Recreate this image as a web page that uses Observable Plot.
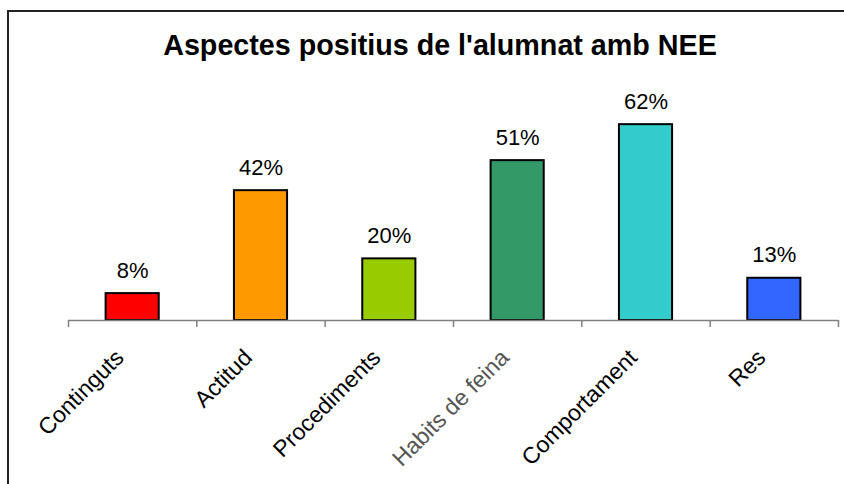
<!DOCTYPE html>
<html>
<head>
<meta charset="utf-8">
<script src="https://cdn.jsdelivr.net/npm/d3@7"></script>
<script src="https://cdn.jsdelivr.net/npm/@observablehq/plot@0.6"></script>
<style>
  html, body { margin: 0; padding: 0; background: #fff; }
  #wrap { position: relative; width: 844px; height: 484px; overflow: hidden; font-family: "Liberation Sans", Arial, sans-serif; }
  #frame { position: absolute; left: 7px; top: 10px; width: 900px; height: 600px; border-top: 2px solid #222; border-left: 2px solid #222; box-sizing: border-box; }
  #title { position: absolute; left: 0; width: 880px; top: 29px; text-align: center; font-weight: bold; font-size: 28.7px; color: #000; line-height: 32px; }
  #chart { position: absolute; left: 0; top: 0; }
</style>
</head>
<body>
<div id="wrap">
  <div id="frame"></div>
  <div id="chart"></div>
  <div id="title">Aspectes positius de l'alumnat amb NEE</div>
</div>
<script>
const categories = ["Continguts", "Actitud", "Procediments", "Habits de feina", "Comportament", "Res"];
const values = [8.6, 41.5, 19.7, 51.1, 62.6, 13.5];
const valueLabels = ["8%", "42%", "20%", "51%", "62%", "13%"];
const colors = ["#FF0000", "#FF9900", "#99CC00", "#339966", "#33CCCC", "#3366FF"];
const labelColors = ["#000", "#000", "#000", "#555", "#000", "#000"];

const data = categories.map((c, i) => ({
  cat: c, idx: i, value: values[i], label: valueLabels[i], color: colors[i], labelColor: labelColors[i]
}));
const edges = d3.range(categories.length + 1);

const chart = Plot.plot({
  width: 844,
  height: 484,
  marginLeft: 68,
  marginRight: 6,
  marginTop: 101,
  marginBottom: 164,
  x: { type: "linear", domain: [0, categories.length] },
  y: { domain: [0, 70], axis: null },
  style: { fontFamily: "'Liberation Sans', Arial, sans-serif", background: "transparent" },
  marks: [
    Plot.rectY(data, {
      x1: d => d.idx + 0.293,
      x2: d => d.idx + 0.707,
      y1: 0,
      y2: "value",
      fill: d => d.color,
      stroke: "#000",
      strokeWidth: 2
    }),
    Plot.ruleY([0], { stroke: "#808080", strokeWidth: 1.5 }),
    Plot.axisX({
      ticks: edges,
      tickFormat: () => "",
      tickSize: 7,
      stroke: "#808080",
      strokeWidth: 1.5,
      label: null
    }),
    Plot.text(data, {
      x: d => d.idx + 0.5,
      y: "value",
      text: "label",
      fontSize: 22,
      fill: "#000",
      textAnchor: "middle",
      lineAnchor: "bottom",
      dy: -16
    }),
    Plot.text(data, {
      x: d => d.idx + 0.5,
      y: 0,
      text: "cat",
      fontSize: 23,
      fill: d => d.labelColor,
      rotate: -45,
      textAnchor: "end",
      lineAnchor: "top",
      dx: -19,
      dy: 27
    })
  ]
});
document.getElementById("chart").appendChild(chart);
</script>
</body>
</html>
